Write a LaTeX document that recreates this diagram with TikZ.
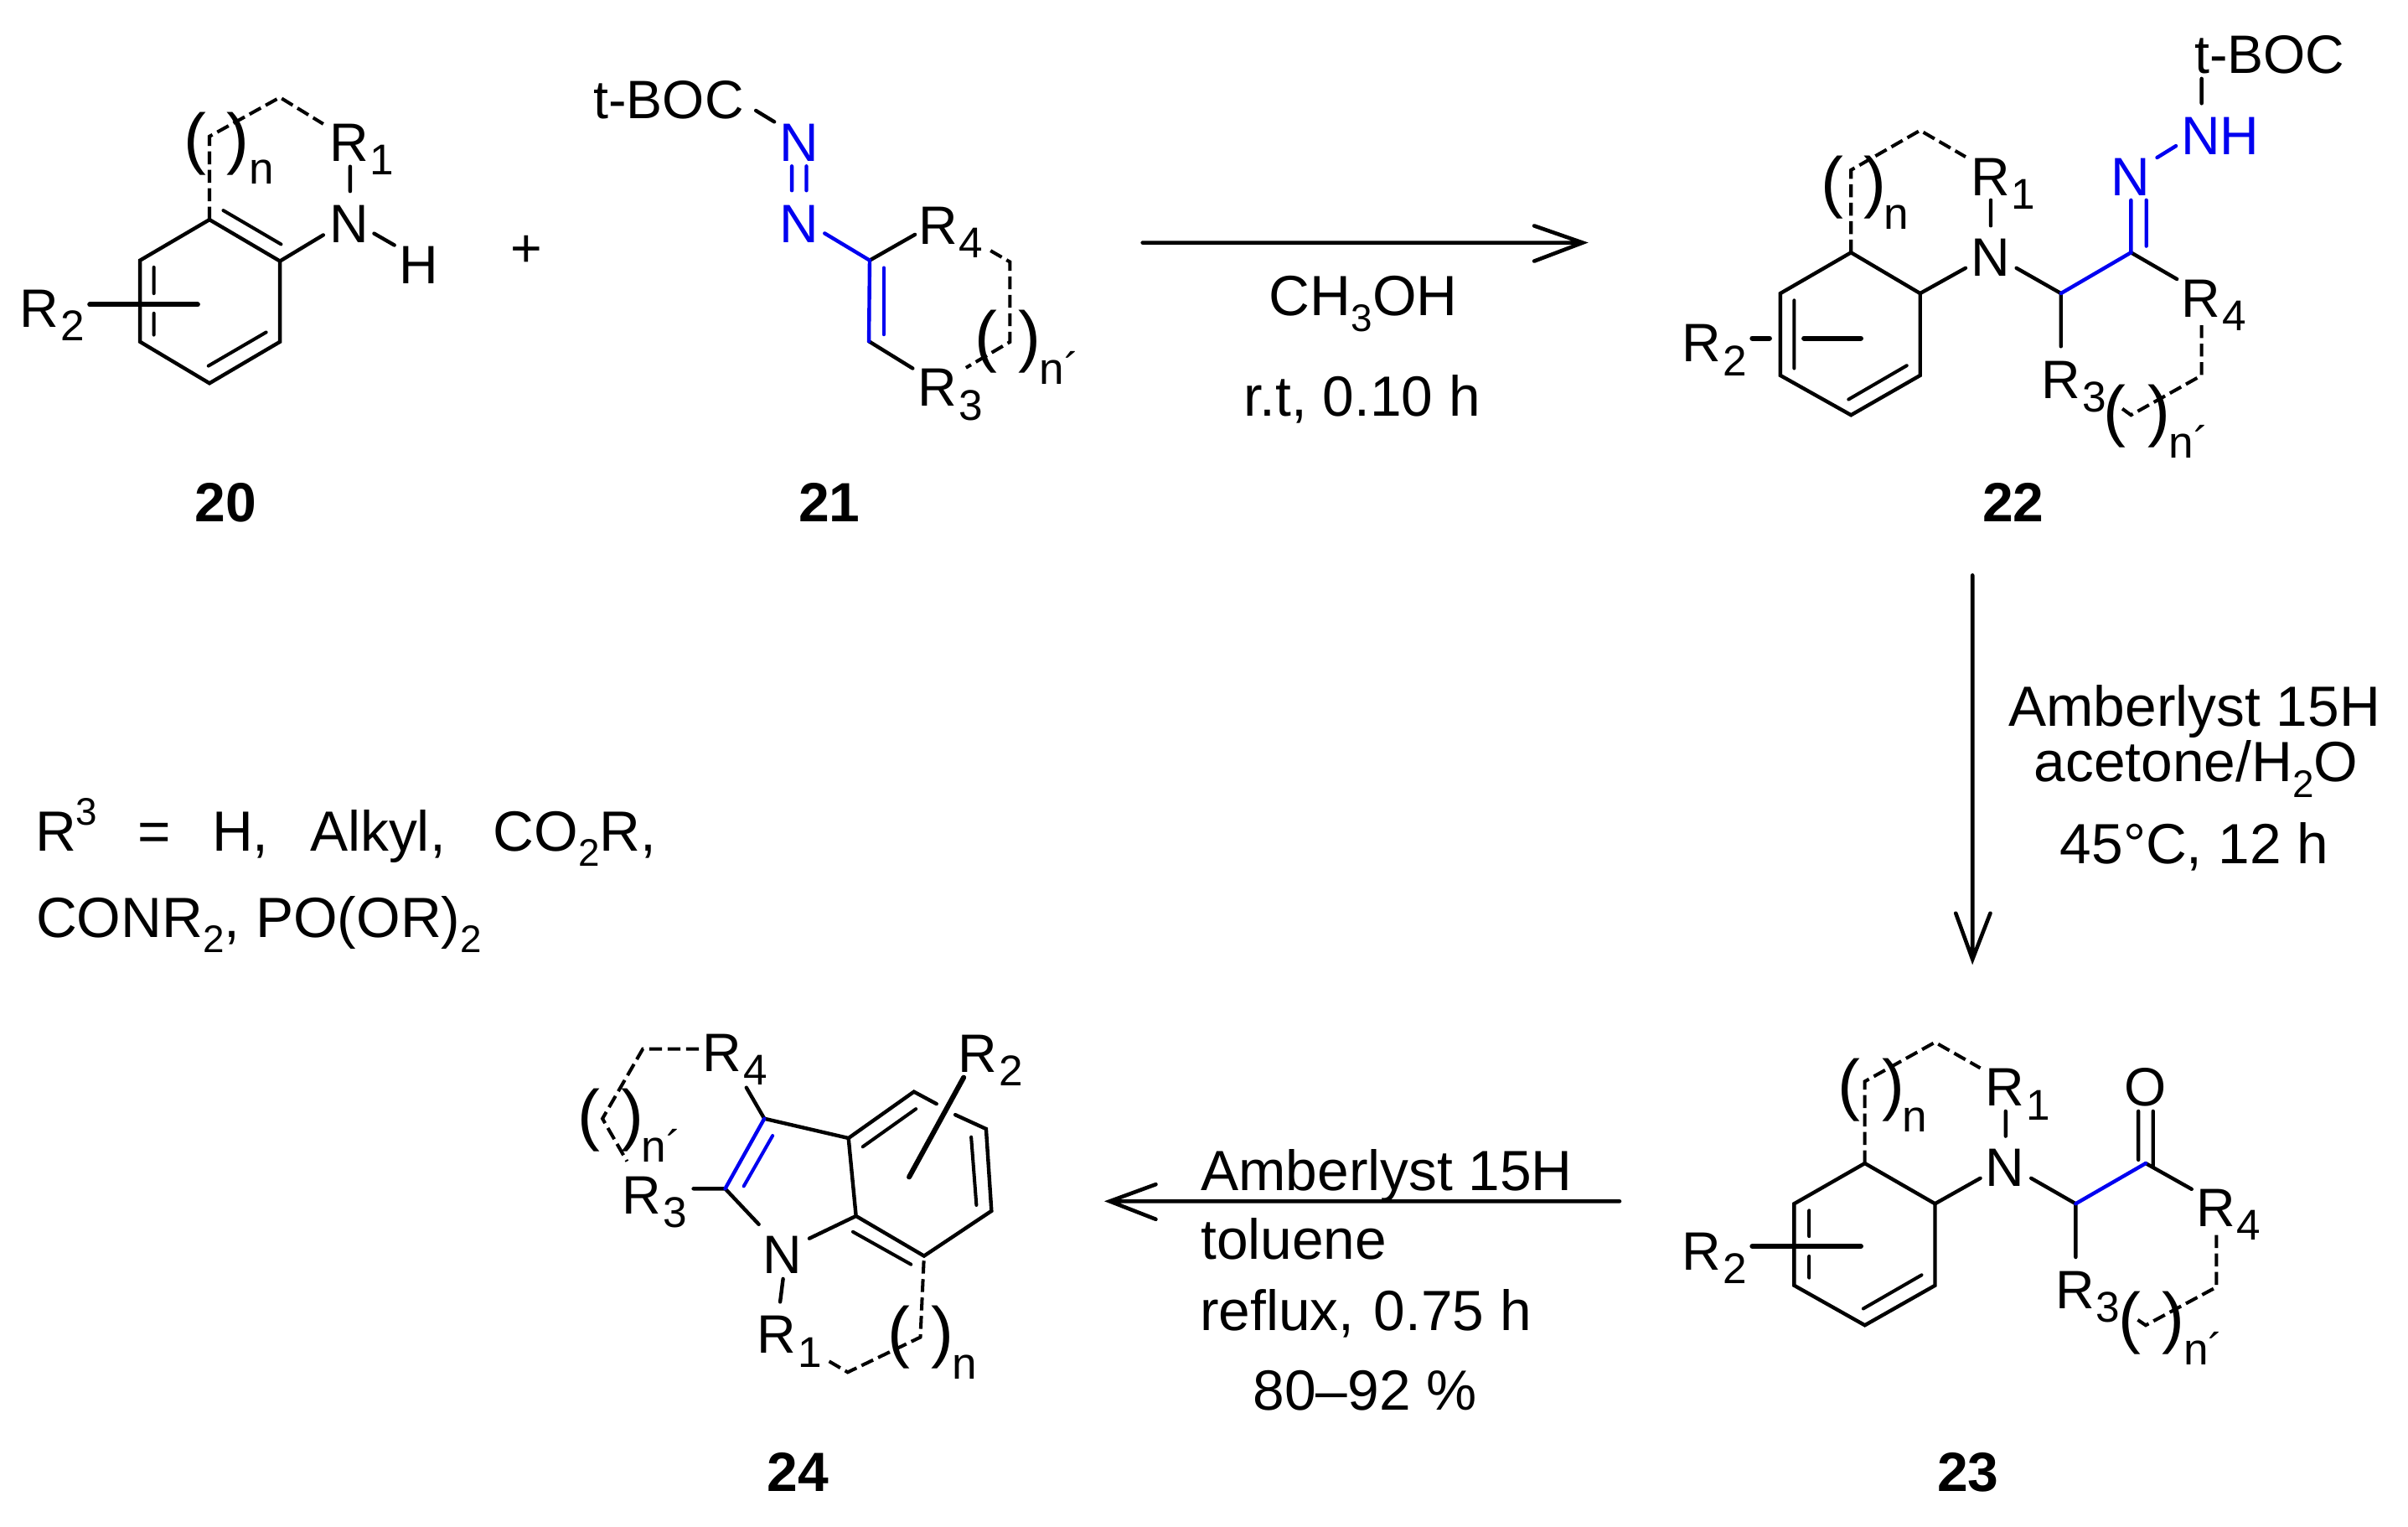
\documentclass[tikz,border=0pt]{standalone}
\usepackage{fontspec}
\setmainfont{Liberation Sans}
\definecolor{chemblue}{HTML}{0000F0}
\newcommand{\sbs}[1]{\kern.6pt\raisebox{-4.5pt}{\fontsize{14}{14}\selectfont #1}}
\newcommand{\sbr}[1]{\raisebox{-5pt}{\fontsize{12.5}{12.5}\selectfont #1}}
\newcommand{\spr}[1]{\raisebox{8.5pt}{\fontsize{12.5}{12.5}\selectfont #1}}
\tikzset{
  bd/.style={line width=1.2pt,line cap=round,line join=miter},
  thk/.style={line width=1.65pt,line cap=round},
  inr/.style={line width=1.1pt,line cap=round},
  dsh/.style={line width=1.1pt,dash pattern=on 4.2pt off 1.8pt,line join=miter},
  blu/.style={draw=chemblue},
  arw/.style={line width=1.25pt,line cap=round,line join=miter},
  lab/.style={inner sep=0pt,outer sep=0pt,anchor=base west,font=\fontsize{17.6}{17.6}\selectfont},
  nlab/.style={inner sep=0pt,outer sep=0pt,anchor=base west,font=\fontsize{14.5}{14.5}\selectfont},
  prn/.style={inner sep=0pt,outer sep=0pt,anchor=base west,font=\fontsize{22}{22}\selectfont},
  reac/.style={inner sep=0pt,outer sep=0pt,anchor=base west,font=\fontsize{18.45}{18.45}\selectfont},
  cid/.style={inner sep=0pt,outer sep=0pt,anchor=base,font=\fontsize{18}{18}\selectfont\bfseries},
}
\begin{document}
\begin{tikzpicture}[x=0.5pt,y=-0.5pt]
\useasboundingbox (0,0) rectangle (1568,994);
\fill[white] (0,0) rectangle (1568,994);

%% ---------- 20 ----------
\path (136.4,143) coordinate (a1) (182.3,170) coordinate (a2) (182.3,222.5) coordinate (a3)
 (136.4,249.5) coordinate (a4) (91.2,222.5) coordinate (a5) (91.2,169.5) coordinate (a6)
 (145.4,137) coordinate (ai1) (183,159) coordinate (ai2)
 (100.2,174) coordinate (ai3) (100.2,191) coordinate (ai4) (100.2,204) coordinate (ai5) (100.2,218) coordinate (ai6)
 (173.3,216.3) coordinate (ai7) (135.7,238.2) coordinate (ai8)
 (58.5,198.3) coordinate (as1) (128.7,198.3) coordinate (as2)
 (136.4,88.8) coordinate (ad1) (182.3,63.4) coordinate (ad2) (210.5,80.7) coordinate (ad3)
 (228,108.4) coordinate (an1) (228,124.5) coordinate (an2)
 (210.5,153) coordinate (an3) (243.6,152) coordinate (an4) (256.8,159.6) coordinate (an5);
\draw[bd] (a1)--(a2)--(a3)--(a4)--(a5)--(a6)--cycle;
\draw[inr] (ai1)--(ai2) (ai3)--(ai4) (ai5)--(ai6) (ai7)--(ai8);
\draw[thk] (as1)--(as2);
\draw[dsh] (a1)--(ad1)--(ad2)--(ad3);
\draw[bd] (an1)--(an2) (a2)--(an3) (an4)--(an5);
\node[lab] (aR2) at (13,213) {R\sbs{2}};
\node[lab] (aR1) at (214.5,105) {R\sbs{1}};
\node[lab] (aN) at (214.5,158) {N};
\node[lab] (aH) at (260,184.5) {H};
\node[nlab] (an) at (162.5,120) {n};
\node[prn] (apl) at (120,104.8) {(};
\node[prn] (apr) at (147.8,104.8) {)};
\node[cid] (a20) at (147,339.5) {20};
\node[lab] (plus) at (332.5,173.7) {+};

%% ---------- 21 ----------
\path (566.3,169.5) coordinate (b1) (565.8,222.2) coordinate (b2)
 (492.2,72) coordinate (bn1) (504.2,79.3) coordinate (bn2)
 (515.6,108.2) coordinate (bn3) (515.6,124) coordinate (bn4) (525.1,108.2) coordinate (bn5) (525.1,124) coordinate (bn6)
 (537,151.9) coordinate (bn7) (595.8,152.7) coordinate (br4) (594.3,239.8) coordinate (br3)
 (575.5,174.3) coordinate (bi1) (575.5,217.8) coordinate (bi2)
 (645,163.2) coordinate (bd1) (657.6,170.5) coordinate (bd2) (657.6,222.6) coordinate (bd3) (629,239.4) coordinate (bd4);
\draw[bd] (bn1)--(bn2) (b1)--(br4) (b2)--(br3);
\draw[bd,blu] (bn3)--(bn4) (bn5)--(bn6) (bn7)--(b1)--(b2);
\draw[inr,blu] (bi1)--(bi2);
\draw[dsh] (bd1)--(bd2)--(bd3)--(bd4);
\node[lab] (btb) at (386.5,77) {t-BOC};
\node[lab,text=chemblue] (bN1) at (507.5,105) {N};
\node[lab,text=chemblue] (bN2) at (507.5,158) {N};
\node[lab] (bR4) at (598,159) {R\sbs{4}};
\node[lab] (bR3) at (597.6,264.5) {R\sbs{3}};
\node[prn] (bpl) at (635,233.8) {(};
\node[prn] (bpr) at (663.4,233.8) {)};
\node[nlab] (bn) at (677,250) {n´};
\node[cid] (b21) at (540,339.5) {21};

%% ---------- arrow 1 ----------
\path (744,158) coordinate (r1s) (1030.6,158) coordinate (r1e) (999,147) coordinate (r1u) (999,170) coordinate (r1d);
\draw[arw] (r1s)--(r1e) (r1u)--(r1e)--(r1d);
\node[reac] (r1a) at (826.5,205.6) {CH\sbr{3}OH};
\node[reac] (r1b) at (810,271) {r.t, 0.10 h};

%% ---------- 22 ----------
\path (1205.3,164.4) coordinate (c1) (1250.3,191) coordinate (c2) (1250.3,244.4) coordinate (c3)
 (1205.3,270.2) coordinate (c4) (1159.3,244.4) coordinate (c5) (1159.3,191) coordinate (c6)
 (1168.3,195.5) coordinate (ci1) (1168.3,239.8) coordinate (ci2)
 (1241.6,238) coordinate (ci3) (1203.7,260) coordinate (ci4)
 (1141,220.2) coordinate (cs1) (1152.2,220.2) coordinate (cs2) (1174.7,220.2) coordinate (cs3) (1211.7,220.2) coordinate (cs4)
 (1205.3,110.7) coordinate (cd1) (1250.3,84.9) coordinate (cd2) (1279.9,102.1) coordinate (cd3)
 (1296.3,130.3) coordinate (cn1) (1296.3,146.9) coordinate (cn2)
 (1279.9,174.5) coordinate (cn3) (1313,174.5) coordinate (cn4)
 (1342,191) coordinate (c7) (1387.6,164.4) coordinate (c8) (1417.5,181.7) coordinate (cr4)
 (1342,225.5) coordinate (cr3)
 (1387.6,130.3) coordinate (cb1) (1397.6,130.3) coordinate (cb2) (1397.6,160.2) coordinate (cb3)
 (1404.6,102.6) coordinate (cb4) (1416.9,95) coordinate (cb5)
 (1433.6,51.2) coordinate (cb6) (1433.6,67.3) coordinate (cb7)
 (1433.6,211.7) coordinate (ce1) (1433.6,244.4) coordinate (ce2) (1387.6,270.2) coordinate (ce3) (1380.5,265) coordinate (ce4);
\draw[bd] (c1)--(c2)--(c3)--(c4)--(c5)--(c6)--cycle;
\draw[inr] (ci1)--(ci2) (ci3)--(ci4);
\draw[thk] (cs1)--(cs2) (cs3)--(cs4);
\draw[dsh] (c1)--(cd1)--(cd2)--(cd3);
\draw[bd] (cn1)--(cn2) (c2)--(cn3) (cn4)--(c7) (c8)--(cr4) (c7)--(cr3) (cb6)--(cb7);
\draw[bd,blu] (c7)--(c8)--(cb1) (cb2)--(cb3) (cb4)--(cb5);
\draw[dsh] (ce1)--(ce2)--(ce3)--(ce4);
\node[lab] (cR2) at (1095.5,235.6) {R\sbs{2}};
\node[lab] (cR1) at (1283.3,127.3) {R\sbs{1}};
\node[lab] (cN) at (1283.3,179.8) {N};
\node[lab,text=chemblue] (cN2) at (1374.3,127.3) {N};
\node[lab,text=chemblue] (cNH) at (1420.3,100.8) {NH};
\node[lab] (ctb) at (1429,48) {t-BOC};
\node[lab] (cR3) at (1329.3,259.4) {R\sbs{3}};
\node[lab] (cR4) at (1420.3,206.4) {R\sbs{4}};
\node[prn] (cpl) at (1185.6,133.3) {(};
\node[prn] (cpr) at (1213.4,133.3) {)};
\node[nlab] (cn) at (1226.8,149.4) {n};
\node[prn] (cql) at (1369.9,282.5) {(};
\node[prn] (cqr) at (1398.6,282.5) {)};
\node[nlab] (cnn) at (1412.3,298) {n´};
\node[cid] (c22) at (1311,339.5) {22};

%% ---------- arrow 2 ----------
\path (1284.4,374.5) coordinate (r2s) (1284.4,624.5) coordinate (r2e) (1273.5,594.5) coordinate (r2l) (1296,594.5) coordinate (r2r);
\draw[arw] (r2s)--(r2e) (r2l)--(r2e)--(r2r);
\node[reac] (r2a) at (1308,472.5) {Amberlyst 15H};
\node[reac] (r2b) at (1324.5,509) {acetone/H\sbr{2}O};
\node[reac] (r2c) at (1341.5,562) {45°C, 12 h};

%% ---------- 23 ----------
\path (1214.3,757.3) coordinate (d1) (1260,783.6) coordinate (d2) (1260,836.8) coordinate (d3)
 (1214.3,862.7) coordinate (d4) (1168.3,836.8) coordinate (d5) (1168.3,783.6) coordinate (d6)
 (1178,788) coordinate (di1) (1178,804.8) coordinate (di2) (1178,817.8) coordinate (di3) (1178,831.8) coordinate (di4)
 (1251.3,830) coordinate (di5) (1213.3,851.9) coordinate (di6)
 (1141,811.3) coordinate (ds1) (1211.7,811.3) coordinate (ds2)
 (1214.3,704) coordinate (dd1) (1260,678.5) coordinate (dd2) (1289.5,695.3) coordinate (dd3)
 (1306,723.4) coordinate (dn1) (1306,739.6) coordinate (dn2)
 (1289.5,767) coordinate (dn3) (1322.6,767) coordinate (dn4)
 (1351.6,783.6) coordinate (d7) (1397.2,757.3) coordinate (d8) (1427.1,774.1) coordinate (dr4)
 (1351.6,818.4) coordinate (dr3)
 (1392.4,723.4) coordinate (do1) (1392.4,755) coordinate (do2) (1402,723.4) coordinate (do3) (1402,760) coordinate (do4)
 (1443.2,804) coordinate (de1) (1443.2,837.9) coordinate (de2) (1397.2,862.7) coordinate (de3) (1390.2,858) coordinate (de4);
\draw[bd] (d1)--(d2)--(d3)--(d4)--(d5)--(d6)--cycle;
\draw[inr] (di1)--(di2) (di3)--(di4) (di5)--(di6);
\draw[thk] (ds1)--(ds2);
\draw[dsh] (d1)--(dd1)--(dd2)--(dd3);
\draw[bd] (dn1)--(dn2) (d2)--(dn3) (dn4)--(d7) (d8)--(dr4) (d7)--(dr3) (do1)--(do2) (do3)--(do4);
\draw[bd,blu] (d7)--(d8);
\draw[dsh] (de1)--(de2)--(de3)--(de4);
\node[lab] (dR2) at (1095.5,826.8) {R\sbs{2}};
\node[lab] (dR1) at (1293,720) {R\sbs{1}};
\node[lab] (dN) at (1293,772.4) {N};
\node[lab] (dO) at (1383.2,720) {O};
\node[lab] (dR3) at (1338.3,851.7) {R\sbs{3}};
\node[lab] (dR4) at (1430,798.3) {R\sbs{4}};
\node[prn] (dpl) at (1196.9,721.1) {(};
\node[prn] (dpr) at (1225.6,721.1) {)};
\node[nlab] (dn) at (1238.6,736.8) {n};
\node[prn] (dql) at (1379.4,872.8) {(};
\node[prn] (dqr) at (1407.9,872.8) {)};
\node[nlab] (dnn) at (1422,888.4) {n´};
\node[cid] (d23) at (1281.5,971) {23};

%% ---------- arrow 3 ----------
\path (1054.6,782) coordinate (r3s) (722.6,782) coordinate (r3e) (752.6,771) coordinate (r3u) (752.6,793.7) coordinate (r3d);
\draw[arw] (r3s)--(r3e) (r3u)--(r3e)--(r3d);
\node[reac] (r3a) at (782,775) {Amberlyst 15H};
\node[reac] (r3b) at (782,820) {toluene};
\node[reac] (r3c) at (781.5,866) {reflux,\hspace{1.2pt} 0.75 h};
\node[reac] (r3d2) at (816,917.7) {80–92 \%};

%% ---------- 24 ----------
\path (497.7,728.2) coordinate (e3) (472.2,773.8) coordinate (e2) (552.5,740.9) coordinate (e3a)
 (557.4,791.6) coordinate (e7a) (595.1,710.7) coordinate (e4) (642.1,734.9) coordinate (e5)
 (645.6,788.3) coordinate (e6) (601.7,817.6) coordinate (e7)
 (486,708) coordinate (er4) (451.5,773.8) coordinate (er3) (494.1,797) coordinate (en1) (527,806.2) coordinate (en2)
 (503.1,739.3) coordinate (ei1) (484.3,772.2) coordinate (ei2)
 (561.8,746.5) coordinate (ei3) (596.4,721.9) coordinate (ei4)
 (609.8,718.6) coordinate (eg1) (622,725.7) coordinate (eg2)
 (632.4,740.2) coordinate (ei5) (635.8,784.5) coordinate (ei6)
 (555.4,801.9) coordinate (ei7) (593.2,823.1) coordinate (ei8)
 (627.5,701.4) coordinate (es1) (592,766.2) coordinate (es2)
 (455.1,682.8) coordinate (ed1) (418.6,682.8) coordinate (ed2) (392.3,728.2) coordinate (ed3) (408.3,756) coordinate (ed4)
 (509.9,832.5) coordinate (en3) (508,847.5) coordinate (en4)
 (539.9,886.2) coordinate (ef1) (552,893.3) coordinate (ef2) (599.3,870.5) coordinate (ef3);
\draw[bd] (er4)--(e3)--(e3a)--(e7a)--(e7)--(e6)--(e5)--(eg2) (eg1)--(e4)--(e3a) (er3)--(e2)--(en1) (en2)--(e7a) (en3)--(en4);
\draw[inr] (ei3)--(ei4) (ei5)--(ei6) (ei7)--(ei8);
\draw[bd,blu] (e3)--(e2);
\draw[inr,blu] (ei1)--(ei2);
\draw[thk] (es1)--(es2);
\draw[dsh] (ed1)--(ed2)--(ed3)--(ed4);
\draw[dsh] (ef1)--(ef2)--(ef3)--(e7);
\node[lab] (eR4) at (457.5,697.3) {R\sbs{4}};
\node[lab] (eR2) at (623.8,697.8) {R\sbs{2}};
\node[lab] (eR3) at (405.3,790) {R\sbs{3}};
\node[lab] (eN) at (497,829.2) {N};
\node[lab] (eR1) at (493,881) {R\sbs{1}};
\node[prn] (epl) at (376.4,740.6) {(};
\node[prn] (epr) at (404.8,740.6) {)};
\node[nlab] (enn) at (417.8,756.5) {n´};
\node[prn] (eql) at (577.9,882.1) {(};
\node[prn] (eqr) at (606.3,882.1) {)};
\node[nlab] (en) at (620,897.8) {n};
\node[cid] (e24) at (519.5,971) {24};

%% ---------- note ----------
\node[reac] (nt1) at (23,554) {R\spr{3}\hspace{13pt}=\hspace{13.5pt}H,\hspace{13.5pt}Alkyl,\hspace{15.5pt}CO\sbr{2}R,};
\node[reac] (nt2) at (23.5,610) {CONR\sbr{2}, PO(OR)\sbr{2}};
\end{tikzpicture}
\end{document}
